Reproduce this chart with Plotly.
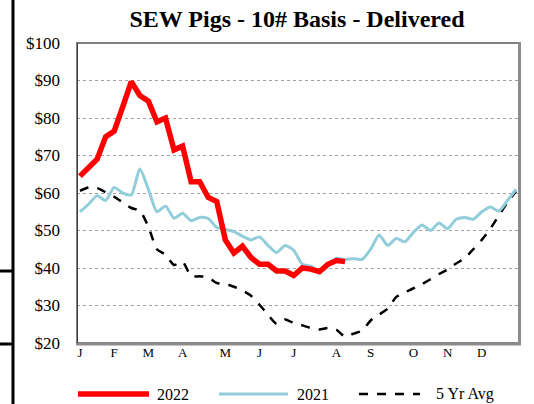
import plotly.graph_objects as go

weeks = list(range(1, 53))

y2022 = [64.5, 66.8, 69.0, 75.0, 76.5, 83.0, 89.7, 86.0, 84.5, 79.0,
         80.0, 71.5, 72.5, 63.0, 63.0, 58.8, 57.7, 47.5, 44.0, 45.8,
         42.8, 41.0, 41.0, 39.2, 39.2, 38.0, 40.0, 39.7, 39.0, 41.0,
         42.0, 41.7]

y2021 = [55.0, 57.0, 59.3, 58.0, 61.5, 60.0, 59.5, 66.4, 61.0, 55.0,
         56.5, 53.3, 54.6, 52.6, 53.5, 53.2, 50.8, 50.3, 49.7, 48.5,
         47.5, 48.3, 46.0, 44.1, 46.0, 44.7, 41.0, 40.5, 39.0, 40.5,
         42.6, 42.3, 42.5, 42.3, 45.0, 48.8, 46.0, 47.9, 47.0, 49.5,
         51.5, 50.0, 52.0, 50.5, 53.0, 53.5, 53.0, 55.0, 56.3, 55.2,
         58.0, 61.0]

y5yr = [60.6, 61.5, 61.3, 60.2, 59.0, 57.5, 56.0, 55.3, 51.0, 45.0,
        43.5, 40.8, 41.7, 37.8, 37.8, 37.5, 36.0, 35.8, 35.0, 34.0,
        32.6, 30.2, 27.5, 25.1, 26.3, 25.3, 24.7, 24.0, 23.6, 24.0,
        23.5, 21.7, 22.5, 23.3, 26.0, 27.6, 29.2, 32.3, 33.5, 34.6,
        35.7, 37.0, 38.4, 39.6, 41.2, 42.6, 45.0, 47.5, 50.5, 54.0,
        57.5, 60.5]

month_weeks = [1, 5, 9, 13, 18, 22, 26, 31, 35, 40, 44, 48]
month_labels = ["J", "F", "M", "A", "M", "J", "J", "A", "S", "O", "N", "D"]

y_ticks = [20, 30, 40, 50, 60, 70, 80, 90, 100]
y_tick_labels = ["$" + str(v) for v in y_ticks]

series_names = ["2022", "2021", "5 Yr Avg"]
RED = "#FF0000"
BLUE = "#92CDDC"
BLACK = "#000000"
FONT = "Times New Roman, Liberation Serif, DejaVu Serif, serif"

fig = go.Figure()
fig.add_trace(go.Scatter(x=weeks, y=y5yr, mode="lines", name=series_names[2],
                         line=dict(color=BLACK, width=2.5, dash="dash", shape="spline", smoothing=0.6)))
fig.add_trace(go.Scatter(x=weeks, y=y2021, mode="lines", name=series_names[1],
                         line=dict(color=BLUE, width=3, shape="spline", smoothing=0.6)))
fig.add_trace(go.Scatter(x=weeks[:len(y2022)], y=y2022, mode="lines", name=series_names[0],
                         line=dict(color=RED, width=5.5)))

W, H = 534, 404
L, R, T, B = 77, 15, 43, 61
pw, ph = W - L - R, H - T - B


def px(x):
    return (x - L) / pw


def py(y):
    return (H - B - y) / ph


shapes = []
# plot frame
shapes.append(dict(type="rect", xref="paper", yref="paper", x0=0, x1=1, y0=0, y1=1,
                   line=dict(color="#808080", width=2), layer="above"))
shapes.append(dict(type="line", xref="paper", yref="paper", x0=px(519.5), x1=px(519.5),
                   y0=py(343), y1=py(42), line=dict(color="#8c8c8c", width=3), layer="above"))
shapes.append(dict(type="line", xref="paper", yref="paper", x0=px(76), x1=px(521),
                   y0=py(344), y1=py(344), line=dict(color="#8c8c8c", width=3), layer="above"))
shapes.append(dict(type="line", xref="paper", yref="paper", x0=px(77.5), x1=px(77.5),
                   y0=py(343), y1=py(43), line=dict(color="#404040", width=1), layer="above"))
# stray page lines on the left of the screenshot
shapes.append(dict(type="line", xref="paper", yref="paper", x0=px(13), x1=px(13),
                   y0=py(0), y1=py(404), line=dict(color="black", width=3)))
shapes.append(dict(type="line", xref="paper", yref="paper", x0=px(0), x1=px(13),
                   y0=py(271), y1=py(271), line=dict(color="black", width=3)))
shapes.append(dict(type="line", xref="paper", yref="paper", x0=px(0), x1=px(13),
                   y0=py(344), y1=py(344), line=dict(color="black", width=3)))

# custom legend
legend_items = [
    (78, 149, 155, series_names[0], RED, 5.5, "solid"),
    (219, 288, 295, series_names[1], BLUE, 3, "solid"),
    (359, 420, 434, series_names[2], BLACK, 2.5, "dash"),
]
annotations = []
ly = 394
for x0, x1, tx, name, col, w, dash in legend_items:
    shapes.append(dict(type="line", xref="paper", yref="paper", x0=px(x0), x1=px(x1),
                       y0=py(ly), y1=py(ly), line=dict(color=col, width=w, dash=dash)))
    annotations.append(dict(xref="paper", yref="paper", x=px(tx), y=py(ly), text=name,
                            showarrow=False, xanchor="left", yanchor="middle",
                            font=dict(family=FONT, size=16, color="black")))

fig.update_layout(
    width=W, height=H,
    margin=dict(l=L, r=R, t=T, b=B),
    paper_bgcolor="white", plot_bgcolor="white",
    showlegend=False,
    title=dict(text="<b>SEW Pigs - 10# Basis - Delivered</b>", xref="container", x=297 / W,
               xanchor="center", yref="container", y=1 - 19 / H, yanchor="middle",
               font=dict(family=FONT, size=24, color="black")),
    xaxis=dict(range=[0.65, 52.35], tickvals=month_weeks, ticktext=month_labels,
               showgrid=False, zeroline=False, ticks="", showline=False,
               tickfont=dict(family=FONT, size=13, color="black")),
    yaxis=dict(range=[20, 100], tickvals=y_ticks, ticktext=y_tick_labels,
               showgrid=True, gridcolor="#a0a0a0", gridwidth=1, griddash="dot",
               zeroline=False, ticks="", showline=False, ticklabelstandoff=16,
               tickfont=dict(family=FONT, size=17, color="black")),
    shapes=shapes,
    annotations=annotations,
)

fig.write_html("out.html", config={"displayModeBar": False},
               post_script="document.body.style.margin='0';document.body.style.padding='0';")
